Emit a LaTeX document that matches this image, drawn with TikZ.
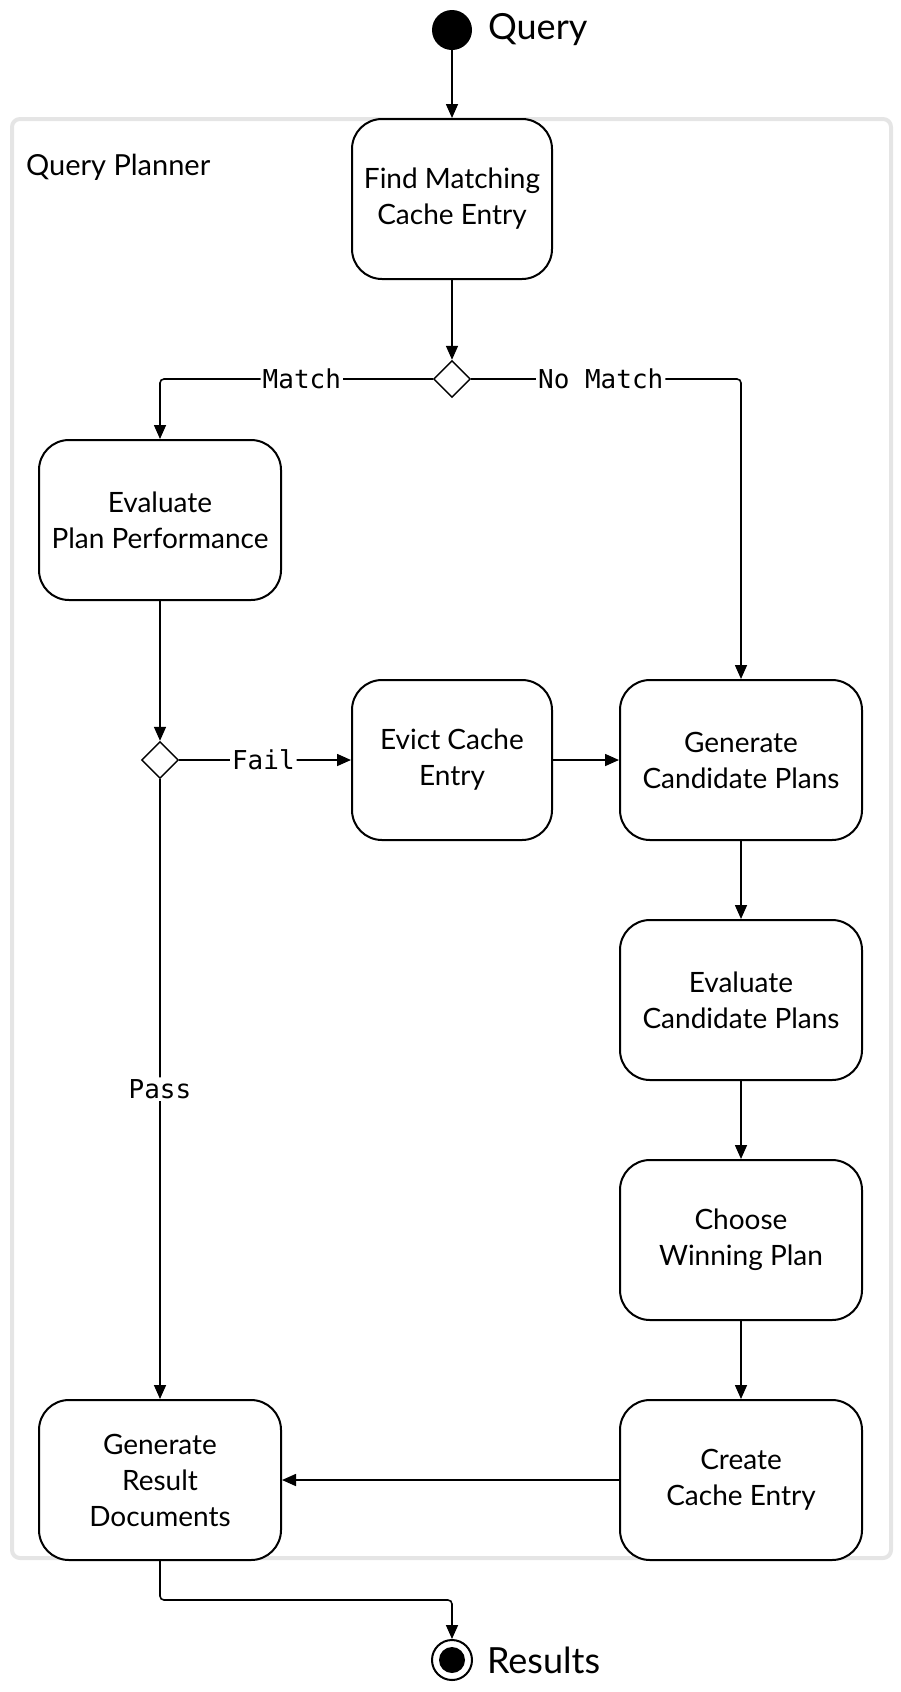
\documentclass[tikz,border=0pt]{standalone}
\usepackage{fontspec}
\setmainfont{Lato}
\setmonofont{DejaVu Sans Mono}
\usetikzlibrary{arrows.meta,
    positioning,
    shapes.geometric}

\begin{document}
\begin{tikzpicture}[x=0.5pt,y=-0.5pt,
    action/.style={draw, line width=1pt, rounded corners=15pt, align=center,
      fill=white, minimum width=100pt, minimum height=80pt,
      font=\fontsize{14}{18}\selectfont},
    wideaction/.style={action, minimum width=121pt},
    choice/.style={draw, diamond, fill=white, line width=0.7pt,
      minimum size=18.5pt, inner sep=0pt},
    flow/.style={-{Triangle[length=7pt,width=6pt]}, line width=0.8pt,
      rounded corners=2pt},
    guard/.style={fill=white, inner sep=1pt,
      font=\ttfamily\fontsize{13}{15}\selectfont}]
  \useasboundingbox (0,0) rectangle (900,1692);
  % swimlane frame
  \draw[draw=black!10, line width=2pt, rounded corners=4pt]
    (12,119) rectangle (891,1558);
  \node[anchor=base west, font=\fontsize{14.5}{16}\selectfont] (lane) at (19,175) {Query Planner};

  % start and end
  \node[circle, fill, minimum size=20pt, inner sep=0pt] (start) at (452,30) {};
  \node[anchor=west, font=\fontsize{18}{20}\selectfont] (startlbl) at (481,30) {Query};
  \node[circle, draw, line width=1pt, minimum size=20pt, inner sep=0pt] (stop) at (452,1660) {};
  \fill (stop.center) circle (6.5pt);
  \node[anchor=west, font=\fontsize{18}{20}\selectfont] (stoplbl) at (480,1660) {Results};

  % actions
  \node[action] (find) at (452,199) {Find Matching\\Cache Entry};
  \node[choice] (cached) at (452,379) {};
  \node[wideaction] (evalperf) at (160,520) {Evaluate\\Plan Performance};
  \node[choice] (perf) at (160,760) {};
  \node[action] (evict) at (452,760) {Evict Cache\\Entry};
  \node[wideaction] (gencand) at (741,760) {Generate\\Candidate Plans};
  \node[wideaction] (evalcand) at (741,1000) {Evaluate\\Candidate Plans};
  \node[wideaction] (choose) at (741,1240) {Choose\\Winning Plan};
  \node[wideaction] (create) at (741,1480) {Create\\Cache Entry};
  \node[wideaction] (genres) at (160,1480) {Generate\\Result\\Documents};

  % flows
  \draw[flow] (start) -- (find);
  \draw[flow] (find) -- (cached);
  \draw[flow] (cached.west) -| node[guard, pos=0.24] {Match} (evalperf.north);
  \draw[flow] (cached.east) -| node[guard, pos=0.24] {No Match} (gencand.north);
  \draw[flow] (evalperf) -- (perf);
  \draw[flow] (perf) -- node[guard, pos=0.49] {Fail} (evict);
  \draw[flow] (evict) -- (gencand);
  \draw[flow] (perf) -- node[guard] {Pass} (genres);
  \draw[flow] (gencand) -- (evalcand);
  \draw[flow] (evalcand) -- (choose);
  \draw[flow] (choose) -- (create);
  \draw[flow] (create) -- (genres);
  \draw[flow] (genres.south) -- ++(0,39) -| (stop.north);
\end{tikzpicture}
\end{document}
